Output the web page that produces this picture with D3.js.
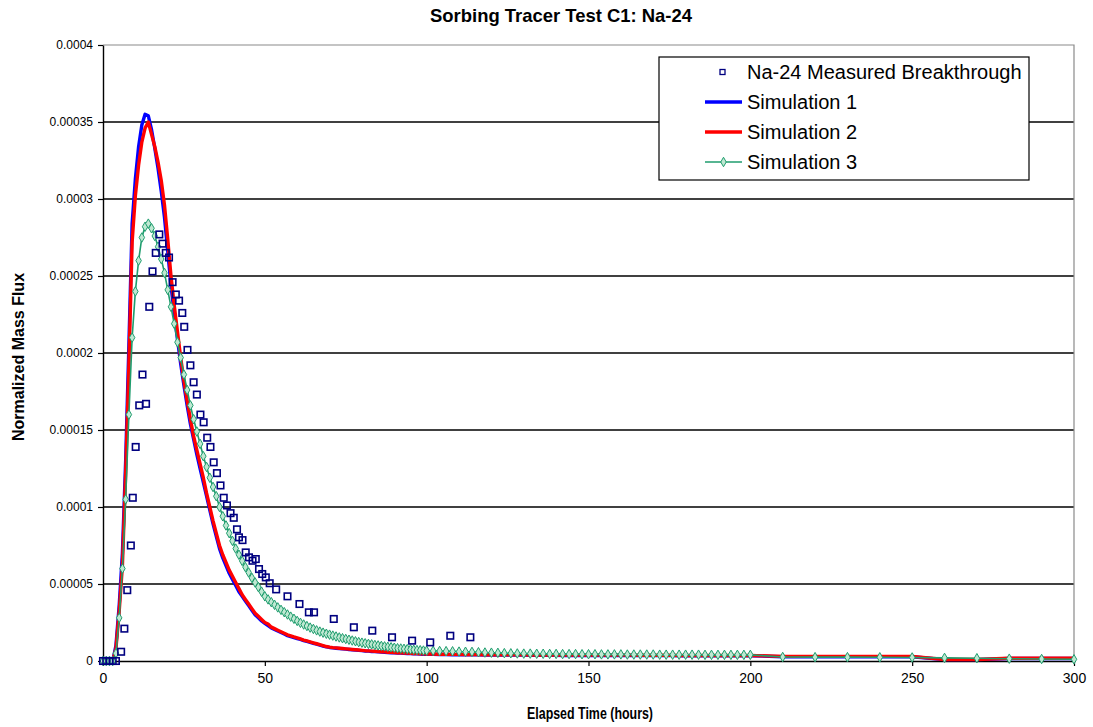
<!DOCTYPE html>
<html>
<head>
<meta charset="utf-8">
<title>Sorbing Tracer Test C1: Na-24</title>
<script src="https://cdn.jsdelivr.net/npm/d3@7"></script>
<style>
  html, body { margin: 0; padding: 0; background: #fff; }
  svg { display: block; }
  text { font-family: "Liberation Sans", Arial, Helvetica, sans-serif; fill: #000; }
</style>
</head>
<body>
<svg id="chart" width="1093" height="727"></svg>
<script>
// Flux values below are stored in units of 1e-6 (normalized mass flux).
const FLUX_UNIT = 1e-6;

// Na-24 measured breakthrough (elapsed hours, flux)
const measuredTime = [0, 1, 2, 3, 4, 5.6, 6.6, 7.5, 8.6, 9.2, 10.1, 11.2, 12.2, 13.3, 14.3, 15.3, 16.3, 17.4, 18.4, 19.4,
  20.4, 21.5, 22.5, 23.5, 24.5, 25.1, 26.1, 27.0, 28.0, 29.0, 30.1, 31.1, 32.2, 33.2, 34.2, 35.2, 36.3, 37.3, 38.3, 39.4,
  40.4, 41.4, 42.0, 43.1, 44.1, 45.1, 46.2, 47.2, 48.2, 49.2, 50.3, 51.5, 53.5, 57.0, 60.7, 63.6, 65.2, 71.3, 77.5, 83.2,
  89.3, 95.5, 101.1, 107.3, 113.5];
const measuredFlux = [0, 0, 0, 0, 0, 6, 21, 46, 75, 106, 139, 166, 186, 167, 230, 253, 265, 277, 271, 265,
  262, 246, 238, 234, 226, 217, 202, 192, 181, 173, 160, 155, 145, 139, 129, 122, 114, 106, 101, 96,
  93, 85.5, 80.3, 78.5, 70.5, 67.3, 65.1, 66.2, 59.7, 56.5, 54.3, 50.5, 46.5, 42, 37, 31.6, 31.6, 27.3, 21.9, 19.7,
  15.4, 13.2, 12.1, 16.4, 15.4];

// Simulation output times (hours)
const simTime = [0, 1, 2, 3, 4, 5, 6, 7, 8, 9, 10, 11, 12, 13, 14, 15, 16, 17, 18, 19,
  20, 21, 22, 23, 24, 25, 26, 27, 28, 29, 30, 31, 32, 33, 34, 35, 36, 37, 38, 39,
  40, 41, 42, 43, 44, 45, 46, 47, 48, 49, 50, 51, 52, 53, 54, 55, 56, 57, 58, 59,
  60, 61, 62, 63, 64, 65, 66, 67, 68, 69, 70, 71, 72, 73, 74, 75, 76, 77, 78, 79,
  80, 81, 82, 83, 84, 85, 86, 87, 88, 89, 90, 91, 92, 93, 94, 95, 96, 97, 98, 99, 100,
  102, 104, 106, 108, 110, 112, 114, 116, 118, 120, 122, 124, 126, 128, 130, 132, 134, 136, 138, 140,
  142, 144, 146, 148, 150, 152, 154, 156, 158, 160, 162, 164, 166, 168, 170, 172, 174, 176, 178, 180,
  182, 184, 186, 188, 190, 192, 194, 196, 198, 200,
  210, 220, 230, 240, 250, 260, 270, 280, 290, 300];

const sim1Flux = [0, 0, 0, 0, 10, 36, 70, 130, 205, 284, 313, 334, 348, 355, 354, 345, 333, 320, 305, 288,
  266, 244, 226, 209, 193, 179, 166, 154, 144, 134, 125, 116, 107, 98, 89, 81, 73, 67, 62, 57,
  53, 49, 45, 42, 39, 36, 33, 30, 28, 26, 24.5, 23, 21.5, 20.5, 19.5, 18.5, 17.5, 16.5, 15.8, 15.2,
  14.6, 14, 13.3, 12.7, 12.1, 11.5, 10.9, 10.3, 9.7, 9.2, 8.8, 8.5, 8.3, 8.1, 7.9, 7.7, 7.5, 7.3, 7.1, 6.9,
  6.7, 6.5, 6.4, 6.2, 6.1, 5.9, 5.8, 5.7, 5.5, 5.4, 5.3, 5.2, 5.1, 5.0, 4.9, 4.8, 4.7, 4.6, 4.5, 4.4, 4.3,
  4.3, 4.2, 4.2, 4.1, 4.1, 4.0, 4.0, 4.0, 3.9, 3.9, 3.9, 3.8, 3.8, 3.8, 3.8, 3.7, 3.7, 3.7, 3.7, 3.7,
  3.6, 3.6, 3.6, 3.6, 3.6, 3.6, 3.6, 3.6, 3.6, 3.6, 3.6, 3.6, 3.5, 3.5, 3.5, 3.5, 3.5, 3.5, 3.4, 3.4,
  3.4, 3.4, 3.4, 3.4, 3.4, 3.4, 3.4, 3.4, 3.4, 3.4,
  2.8, 2.8, 2.8, 2.8, 2.8, 0.9, 0.9, 1.6, 1.6, 1.6];

const sim2Flux = [0, 0, 0, 0, 8, 32, 62, 122, 192, 272, 302, 322, 337, 346, 350, 342, 334, 324, 312, 296,
  274, 250, 231, 214, 197, 182, 169, 157, 146, 137, 128, 119, 109, 100, 91, 83, 75, 69, 64, 59,
  55, 51, 47, 43, 40, 37, 34, 31, 29, 27, 25, 24, 22, 21, 20, 19, 18, 17, 16.3, 15.6,
  15, 14.3, 13.6, 13, 12.4, 11.8, 11.2, 10.6, 10, 9.4, 9, 8.7, 8.5, 8.3, 8.1, 7.9, 7.7, 7.5, 7.3, 7.1,
  6.9, 6.7, 6.6, 6.4, 6.3, 6.1, 6.0, 5.9, 5.7, 5.6, 5.5, 5.4, 5.3, 5.2, 5.1, 5.0, 4.9, 4.8, 4.7, 4.6, 4.5,
  4.5, 4.4, 4.4, 4.3, 4.3, 4.2, 4.2, 4.2, 4.1, 4.1, 4.1, 4.0, 4.0, 4.0, 4.0, 3.9, 3.9, 3.9, 3.9, 3.9,
  3.8, 3.8, 3.8, 3.8, 3.8, 3.8, 3.8, 3.8, 3.8, 3.8, 3.8, 3.8, 3.7, 3.7, 3.7, 3.7, 3.7, 3.7, 3.6, 3.6,
  3.6, 3.6, 3.6, 3.6, 3.6, 3.6, 3.6, 3.6, 3.6, 3.6,
  3.0, 3.0, 3.0, 3.0, 3.0, 1.0, 1.0, 1.8, 1.8, 1.8];

const sim3Flux = [0, 0, 0, 0, 5, 28, 60, 105, 160, 210, 240, 260, 275, 282, 284, 281, 276, 269, 261, 252,
  241, 230, 219, 207, 197, 186, 176, 166, 157, 149, 141, 133, 126, 119, 113, 107, 100, 94, 88, 83,
  78, 73, 69, 65, 61, 57.5, 54, 51, 48, 45, 42, 40, 38.2, 36.5, 34.8, 33.2, 31.7, 30.2, 28.8, 27.4,
  26, 24.8, 23.7, 22.7, 21.7, 20.8, 19.9, 19.1, 18.4, 17.7, 17.1, 16.5, 15.9, 15.3, 14.8, 14.3, 13.8, 13.3, 12.8, 12.3,
  11.9, 11.5, 11.1, 10.8, 10.4, 10.1, 9.8, 9.5, 9.2, 8.9, 8.6, 8.3, 8.1, 7.9, 7.7, 7.5, 7.3, 7.1, 7.0, 6.8, 6.7,
  6.6, 6.5, 6.4, 6.3, 6.1, 6.0, 5.9, 5.7, 5.5, 5.4, 5.3, 5.1, 5.0, 4.9, 4.8, 4.8, 4.7, 4.7, 4.6, 4.6,
  4.5, 4.5, 4.5, 4.4, 4.4, 4.4, 4.3, 4.3, 4.3, 4.3, 4.2, 4.2, 4.2, 4.2, 4.2, 4.1, 4.1, 4.1, 4.1, 4.1,
  4.1, 4.1, 4.0, 4.0, 4.0, 4.0, 4.0, 4.0, 4.0, 4.0,
  2.6, 2.5, 2.5, 2.4, 2.3, 2.0, 1.8, 1.5, 1.3, 1.1];

const seriesNames = ["Na-24 Measured Breakthrough", "Simulation 1", "Simulation 2", "Simulation 3"];
const seriesColors = ["#000080", "#0000ff", "#ff0000", "#1f9d6e"];

const xTickValues = [0, 50, 100, 150, 200, 250, 300];
const yTickValues = [0, 0.00005, 0.0001, 0.00015, 0.0002, 0.00025, 0.0003, 0.00035, 0.0004];
const yTickLabels = ["0", "0.00005", "0.0001", "0.00015", "0.0002", "0.00025", "0.0003", "0.00035", "0.0004"];

const chartTitle = "Sorbing Tracer Test C1: Na-24";
const xTitle = "Elapsed Time (hours)";
const yTitle = "Normalized Mass Flux";

// ---- layout ----
const plot = { left: 103, right: 1074, top: 45, bottom: 661 };
const svg = d3.select("#chart");

const x = d3.scaleLinear().domain([0, 300]).range([plot.left, plot.right]);
const y = d3.scaleLinear().domain([0, 0.0004]).range([plot.bottom, plot.top]);

// horizontal gridlines
svg.append("g")
  .selectAll("line")
  .data(yTickValues.filter(v => v > 0 && v < 0.0004))
  .join("line")
  .attr("x1", plot.left).attr("x2", plot.right)
  .attr("y1", d => y(d)).attr("y2", d => y(d))
  .attr("stroke", "#000").attr("stroke-width", 1.4);

// plot frame (top and right edges)
svg.append("path")
  .attr("d", `M${plot.left},${plot.top}H${plot.right}V${plot.bottom}`)
  .attr("fill", "none").attr("stroke", "#8a8a8a").attr("stroke-width", 1.2);

// axes
const xAxis = svg.append("g")
  .attr("transform", `translate(0,${plot.bottom})`)
  .call(d3.axisBottom(x).tickValues(xTickValues).tickSizeInner(5).tickSizeOuter(0).tickPadding(7));
const yAxis = svg.append("g")
  .attr("transform", `translate(${plot.left},0)`)
  .call(d3.axisLeft(y).tickValues(yTickValues).tickFormat((d, i) => yTickLabels[i])
    .tickSizeInner(5).tickSizeOuter(0).tickPadding(5));

[xAxis, yAxis].forEach(g => {
  g.select(".domain").attr("stroke", "#000").attr("stroke-width", 1.4);
  g.selectAll(".tick line").attr("stroke", "#000").attr("stroke-width", 1.2);
  g.selectAll(".tick text").attr("fill", "#000")
    .style("font-family", '"Liberation Sans", Arial, sans-serif');
});
xAxis.selectAll(".tick text").style("font-size", "14px");
yAxis.selectAll(".tick text").style("font-size", "12px");

// series
const line = d3.line().x(d => x(d[0])).y(d => y(d[1] * FLUX_UNIT));
const simSeries = [sim1Flux, sim2Flux, sim3Flux].map(vals => simTime.map((t, i) => [t, vals[i]]));

svg.append("clipPath").attr("id", "plot-clip")
  .append("rect").attr("x", plot.left - 6).attr("y", plot.top)
  .attr("width", plot.right - plot.left + 12).attr("height", plot.bottom - plot.top + 6);

const marks = svg.append("g").attr("clip-path", "url(#plot-clip)");

marks.append("path").datum(simSeries[0])
  .attr("d", line).attr("fill", "none")
  .attr("stroke", seriesColors[1]).attr("stroke-width", 3.4).attr("stroke-linejoin", "round");
marks.append("path").datum(simSeries[1])
  .attr("d", line).attr("fill", "none")
  .attr("stroke", seriesColors[2]).attr("stroke-width", 3.4).attr("stroke-linejoin", "round");
marks.append("path").datum(simSeries[2])
  .attr("d", line).attr("fill", "none")
  .attr("stroke", seriesColors[3]).attr("stroke-width", 1.6);

const diamond = d3.symbol().type(d3.symbolDiamond).size(26);
marks.append("g")
  .selectAll("path")
  .data(simSeries[2])
  .join("path")
  .attr("d", diamond)
  .attr("transform", d => `translate(${x(d[0])},${y(d[1] * FLUX_UNIT)})`)
  .attr("fill", "#bfe8d2").attr("stroke", seriesColors[3]).attr("stroke-width", 1);

const measured = measuredTime.map((t, i) => [t, measuredFlux[i]]);
marks.append("g")
  .selectAll("rect")
  .data(measured)
  .join("rect")
  .attr("x", d => x(d[0]) - 3.25).attr("y", d => y(d[1] * FLUX_UNIT) - 3.25)
  .attr("width", 6.5).attr("height", 6.5)
  .attr("fill", "none").attr("stroke", seriesColors[0]).attr("stroke-width", 1.6);

// titles
svg.append("text")
  .attr("x", 561).attr("y", 22)
  .attr("text-anchor", "middle")
  .attr("textLength", 262).attr("lengthAdjust", "spacingAndGlyphs")
  .style("font-size", "19px").style("font-weight", "bold")
  .text(chartTitle);

svg.append("text")
  .attr("x", 590).attr("y", 719)
  .attr("text-anchor", "middle")
  .attr("textLength", 126).attr("lengthAdjust", "spacingAndGlyphs")
  .style("font-size", "16px").style("font-weight", "bold")
  .text(xTitle);

svg.append("text")
  .attr("transform", "translate(24,357) rotate(-90)")
  .attr("text-anchor", "middle")
  .style("font-size", "16px").style("font-weight", "bold")
  .text(yTitle);

// legend
const legend = svg.append("g");
legend.append("rect")
  .attr("x", 659).attr("y", 57).attr("width", 370).attr("height", 123)
  .attr("fill", "#fff").attr("stroke", "#000").attr("stroke-width", 1.2);

const rowY = i => 72 + i * 30;
const rows = legend.selectAll("g.row").data(seriesNames).join("g").attr("class", "row");

rows.append("text")
  .attr("x", 747).attr("y", (d, i) => rowY(i)).attr("dy", "0.36em")
  .style("font-size", "20px")
  .text(d => d);

rows.filter((d, i) => i > 0).append("line")
  .attr("x1", 705).attr("x2", 742)
  .attr("y1", (d, i) => rowY(i + 1)).attr("y2", (d, i) => rowY(i + 1))
  .attr("stroke", (d, i) => seriesColors[i + 1])
  .attr("stroke-width", (d, i) => i < 2 ? 3.4 : 1.6);

legend.append("rect")
  .attr("x", 720).attr("y", rowY(0) - 2.5).attr("width", 5).attr("height", 5)
  .attr("fill", "none").attr("stroke", seriesColors[0]).attr("stroke-width", 1.3);

legend.append("path")
  .attr("d", diamond)
  .attr("transform", `translate(723.5,${rowY(3)})`)
  .attr("fill", "#bfe8d2").attr("stroke", seriesColors[3]).attr("stroke-width", 1);
</script>
</body>
</html>
